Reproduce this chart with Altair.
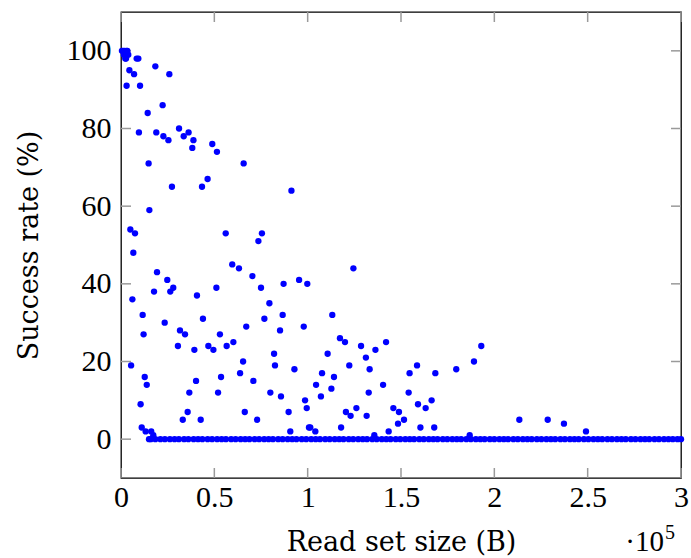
import altair as alt
import pandas as pd

# Non-zero (and near-origin) measurements: read set size (bytes), success rate (%)
size_b = [500, 1200, 2000, 3000, 3400, 1500, 2500, 3900, 2300, 2700,
          8400, 9300, 18400, 4500, 7000, 25900, 3000, 10200, 22300, 14300,
          9600, 18900, 31100, 22700, 25400, 33600, 36200, 38800, 38200, 48900, 51400,
          14800, 65700,
          27300, 43400, 46400, 91300, 15200, 5000, 7500, 56100, 75500, 73600, 6600,
          59600, 63200, 70400, 19300, 24800, 28000, 26400, 17700, 51100, 40700, 75000,
          87100, 95400, 99800, 124500, 79500, 6100, 11600, 43900, 76800, 86600, 113200,
          23400, 12100, 31600, 34300, 53000, 67100, 85200, 97900,
          30500, 39300, 46800, 49500, 56600, 60200, 82000, 5400, 65400, 82500, 63800, 92900,
          12700, 13800, 40200, 53600, 70900, 36600, 52000, 80000, 85700, 98600, 10500,
          35700, 66300, 89800, 99500, 33100, 42700, 72900, 11100, 13200, 16200, 17300, 15000,
          90700, 100700,
          117300, 120000, 128600, 142000, 136300, 193000, 110700, 131200, 122300, 133200,
          158600, 189100, 179600, 107700, 154600, 168400, 114100, 104500, 140400, 112700,
          132700, 154100, 107100, 166400, 159100, 163200, 145900, 126100, 120500, 148900,
          123000, 131600, 151600, 148400, 101400, 104100, 117900, 160400, 167800, 143400,
          135700, 186800,
          213400, 228600, 237300, 249100]
rate_pct = [100, 100, 100, 100, 100, 99, 99, 99, 98, 98,
            98, 98, 96, 95, 94, 94, 91, 91, 86, 84,
            79, 79, 80, 78, 77, 78, 79, 77, 75, 76, 74,
            71, 71,
            65, 65, 67, 64, 59, 54, 53, 53, 53, 51, 48,
            45, 44, 42, 43, 41, 39, 38, 38, 39, 37, 39,
            40, 41, 40, 44, 35, 36, 32, 31, 31, 32, 32,
            30, 27, 28, 27, 27, 29, 28, 29,
            24, 23, 24, 23, 24, 25, 22, 19, 20, 19, 17, 18,
            16, 14, 15, 16, 15, 12, 12, 12, 11, 10, 9,
            7, 7, 7, 8, 5, 5, 5, 3, 2, 2, 1, 0,
            2, 3,
            26, 25, 24, 25, 23, 24, 22, 21, 19, 18,
            19, 20, 18, 17, 17, 17, 16, 14, 14, 13,
            12, 12, 11, 10, 9, 8, 8, 8, 7, 7,
            6, 6, 5, 4, 3, 2, 3, 3, 3, 2,
            1, 1,
            5, 5, 4, 2]

# Runs that all failed (0 %): read set sizes in kB
zero_size_kb = [16.0, 18.4, 21.1, 23.5, 26.2, 28.7, 31.0, 33.8, 36.1, 38.9, 41.3, 43.6,
                46.4, 48.8, 51.5, 53.9, 56.2, 59.0, 61.4, 64.1, 66.5, 68.8, 71.6, 74.0,
                76.7, 79.1, 81.4, 84.2, 86.6, 89.3, 91.7, 94.0, 96.8, 99.2, 101.9, 104.3,
                106.6, 109.4, 111.8, 114.5, 116.9, 119.2, 122.0, 124.4, 127.1, 129.5, 131.8,
                134.6, 137.0, 139.7, 142.1, 144.4, 147.2, 149.6, 152.3, 154.7, 157.0, 159.8,
                162.2, 164.9, 167.3, 169.6, 172.4, 174.8, 177.5, 179.9, 182.2, 185.0, 187.4,
                190.1, 192.5, 194.8, 197.6, 200.0, 202.7, 205.1, 207.4, 210.2, 212.6, 215.3,
                217.7, 220.0, 222.8, 225.2, 227.9, 230.3, 232.6, 235.4, 237.8, 240.5, 242.9,
                245.2, 248.0, 250.4, 253.1, 255.5, 257.8, 260.6, 263.0, 265.7, 268.1, 270.4,
                273.2, 275.6, 278.3, 280.7, 283.0, 285.8, 288.2, 290.9, 293.3, 295.6, 298.1,
                300.0]

x_ticks = [0, 50000, 100000, 150000, 200000, 250000, 300000]
y_ticks = [0, 20, 40, 60, 80, 100]

W, H = 560, 466
TICK = 10
TICK_COLOR = "#9a9a9a"
LABEL_FONT = "Liberation Serif"
TITLE_FONT = "DejaVu Serif"

df = pd.DataFrame({
    "size": size_b + [v * 1000 for v in zero_size_kb],
    "rate": rate_pct + [0] * len(zero_size_kb),
})
xt = pd.DataFrame({"size": x_ticks})
yt = pd.DataFrame({"rate": y_ticks})

xscale = alt.Scale(domain=[0, 300000], nice=False, zero=False)
yscale = alt.Scale(domain=[-10, 110], nice=False, zero=False)

xaxis = alt.Axis(values=x_ticks, labelExpr="datum.value / 100000 + ''",
                 ticks=False, grid=False, domain=False,
                 labelFont=LABEL_FONT, labelFontSize=30, labelColor="black",
                 labelPadding=4, labelFlush=False,
                 title="Read set size (B)", titleFont=TITLE_FONT,
                 titleFontSize=27, titleFontWeight="normal", titleColor="black",
                 titlePadding=17)
yaxis = alt.Axis(values=y_ticks, ticks=False, grid=False, domain=False,
                 labelFont=LABEL_FONT, labelFontSize=30, labelColor="black",
                 labelPadding=10, labelFlush=False,
                 title="Success rate (%)", titleFont=TITLE_FONT,
                 titleFontSize=27, titleFontWeight="normal", titleColor="black",
                 titlePadding=23)

X = lambda: alt.X("size:Q", scale=xscale, axis=xaxis, title="Read set size (B)")
Y = lambda: alt.Y("rate:Q", scale=yscale, axis=yaxis, title="Success rate (%)")

points = alt.Chart(df).mark_circle(size=40, color="#0000ff", opacity=1).encode(
    x=X(), y=Y())

rule_style = dict(color=TICK_COLOR, strokeWidth=1.5)
xb = alt.Chart(xt).mark_rule(**rule_style).encode(
    x=X(), y=alt.value(H), y2=alt.value(H - TICK))
xtop = alt.Chart(xt).mark_rule(**rule_style).encode(
    x=X(), y=alt.value(0), y2=alt.value(TICK))
yl = alt.Chart(yt).mark_rule(**rule_style).encode(
    y=Y(), x=alt.value(0), x2=alt.value(TICK))
yr = alt.Chart(yt).mark_rule(**rule_style).encode(
    y=Y(), x=alt.value(W - TICK), x2=alt.value(W))

mult = alt.Chart(pd.DataFrame({"t": ["·10"]})).mark_text(
    font=LABEL_FONT, fontSize=29, align="right", baseline="alphabetic", color="black"
).encode(text="t:N", x=alt.value(543), y=alt.value(539))
expo = alt.Chart(pd.DataFrame({"t": ["5"]})).mark_text(
    font=LABEL_FONT, fontSize=20, align="left", baseline="alphabetic", color="black"
).encode(text="t:N", x=alt.value(544), y=alt.value(527))

chart = alt.layer(xb, xtop, yl, yr, points, mult, expo).properties(
    width=W, height=H,
    padding={"left": 121, "top": 12, "right": 10, "bottom": 80},
    autosize=alt.AutoSizeParams(type="none"),
    background="white",
).configure_view(stroke="black", strokeWidth=1.3)

chart.save("out.html", embed_options={"renderer": "svg", "actions": False})
